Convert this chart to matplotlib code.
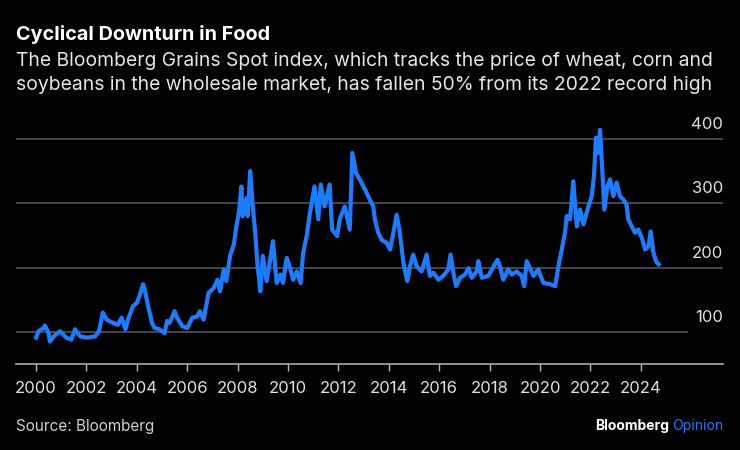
import matplotlib
matplotlib.use('Agg')
import matplotlib.pyplot as plt
import numpy as np

plt.rcParams['font.family'] = ['Inter', 'Liberation Sans', 'DejaVu Sans']

# Bloomberg Grains Spot index
years = [2000.0, 2000.1, 2000.3, 2000.35, 2000.5, 2000.55, 2000.7, 2000.95, 2001.2, 2001.4,
         2001.55, 2001.75, 2002.0, 2002.35, 2002.5, 2002.65, 2002.8, 2003.05, 2003.25, 2003.4,
         2003.55, 2003.65, 2003.85, 2004.0, 2004.1, 2004.25, 2004.3, 2004.45, 2004.6, 2004.7,
         2004.9, 2005.1, 2005.2, 2005.3, 2005.5, 2005.6, 2005.8, 2006.0, 2006.2, 2006.4,
         2006.5, 2006.65, 2006.85, 2007.05, 2007.2, 2007.3, 2007.45, 2007.55, 2007.7, 2007.85,
         2007.95, 2008.05, 2008.15, 2008.2, 2008.35, 2008.4, 2008.5, 2008.6, 2008.7, 2008.8,
         2008.85, 2008.9, 2009.0, 2009.15, 2009.25, 2009.4, 2009.55, 2009.7, 2009.8, 2009.95,
         2010.1, 2010.2, 2010.35, 2010.5, 2010.6, 2010.75, 2010.85, 2011.05, 2011.2, 2011.3,
         2011.45, 2011.65, 2011.75, 2011.95, 2012.05, 2012.25, 2012.45, 2012.55, 2012.7, 2012.86,
         2013.06, 2013.25, 2013.38, 2013.45, 2013.58, 2013.72, 2013.92, 2014.05, 2014.18, 2014.31,
         2014.42, 2014.58, 2014.73, 2014.84, 2014.97, 2015.1, 2015.3, 2015.5, 2015.63, 2015.77,
         2015.97, 2016.16, 2016.36, 2016.45, 2016.56, 2016.67, 2016.83, 2017.02, 2017.16, 2017.29,
         2017.49, 2017.55, 2017.69, 2017.95, 2018.12, 2018.31, 2018.41, 2018.54, 2018.74, 2018.88,
         2019.07, 2019.27, 2019.37, 2019.47, 2019.6, 2019.74, 2019.93, 2020.13, 2020.4, 2020.6,
         2020.73, 2020.86, 2020.99, 2021.06, 2021.19, 2021.32, 2021.46, 2021.59, 2021.72, 2021.92,
         2022.05, 2022.14, 2022.22, 2022.31, 2022.38, 2022.47, 2022.55, 2022.67, 2022.78, 2022.91,
         2023.04, 2023.17, 2023.3, 2023.43, 2023.5, 2023.64, 2023.77, 2023.9, 2024.04, 2024.17,
         2024.3, 2024.39, 2024.5, 2024.6, 2024.7]
index = [91, 101, 106, 110, 98, 85, 93, 101, 91, 88,
         104, 93, 91, 93, 101, 130, 119, 114, 111, 122,
         104, 119, 140, 145, 155, 174, 168, 140, 114, 106,
         104, 98, 117, 114, 132, 122, 109, 106, 122, 124,
         132, 119, 161, 168, 181, 163, 197, 179, 218, 236,
         264, 285, 326, 280, 308, 280, 350, 295, 254, 197,
         184, 163, 218, 179, 202, 241, 176, 189, 176, 215,
         197, 181, 194, 176, 223, 251, 280, 326, 275, 329,
         295, 329, 259, 249, 275, 295, 259, 378, 347, 336,
         321, 305, 295, 274, 254, 243, 238, 228, 254, 282,
         259, 207, 179, 202, 220, 202, 194, 220, 187, 192,
         181, 187, 197, 220, 192, 171, 184, 189, 199, 184,
         194, 210, 184, 187, 199, 212, 202, 181, 197, 189,
         194, 187, 171, 210, 199, 187, 197, 176, 174, 171,
         202, 228, 254, 280, 275, 334, 264, 290, 267, 295,
         311, 342, 402, 378, 414, 352, 290, 326, 337, 311,
         332, 311, 306, 298, 275, 264, 254, 259, 246, 228,
         233, 256, 223, 210, 205]

xticks = list(range(2000, 2025, 2))
yticks = [100, 200, 300, 400]

bg = 'black'
blue = '#1a7dff'

fig = plt.figure(figsize=(7.4, 4.5), dpi=100, facecolor=bg)
ax = fig.add_axes([16/740, 1 - 364/450, 707/740, (364 - 126)/450])
ax.set_facecolor(bg)

ax.set_xlim(1999.206, 2027.26)
ax.set_ylim(50, 420)

# gridlines, the lowest one stops short of the labels
for v in yticks:
    xmax = 0.949 if v == 100 else 1.0
    ax.axhline(v, xmin=0, xmax=xmax, color='#5a5a5a', lw=1.1, zorder=1)
    ax.annotate(str(v), xy=(1.0, v), xycoords=('axes fraction', 'data'),
                xytext=(0, 5), textcoords='offset points', ha='right', va='bottom',
                color='#e0e0e0', fontsize=12)

ax.plot(years, index, color=blue, lw=3.0, solid_joinstyle='round', zorder=3)

for s in ['top', 'right', 'left']:
    ax.spines[s].set_visible(False)
ax.spines['bottom'].set_color('#bbbbbb')
ax.spines['bottom'].set_linewidth(1.1)
ax.set_yticks([])
ax.set_xticks(xticks)
ax.set_xticklabels([str(y) for y in xticks])
ax.tick_params(axis='x', colors='#bbbbbb', length=5, width=1, labelcolor='#e0e0e0',
               labelsize=12, pad=7)

fig.text(16/740, 1 - 35/450, 'Cyclical Downturn in Food', color='white', fontsize=14.3,
         fontweight='bold', va='center', ha='left')
fig.text(16/740, 1 - 61/450, 'The Bloomberg Grains Spot index, which tracks the price of wheat, corn and',
         color='#e6e6e6', fontsize=13.9, va='center', ha='left')
fig.text(16/740, 1 - 85/450, 'soybeans in the wholesale market, has fallen 50% from its 2022 record high',
         color='#e6e6e6', fontsize=13.9, va='center', ha='left')

fig.text(16/740, 1 - 426/450, 'Source: Bloomberg', color='#d0d0d0', fontsize=11,
         va='center', ha='left')

op = fig.text(723/740, 1 - 426/450, 'Opinion', color=blue, fontsize=10, va='center', ha='right')
r = fig.canvas.get_renderer()
bb = op.get_window_extent(renderer=r)
fig.text((bb.x0 - 3) / 740, 1 - 426/450, 'Bloomberg', color='white', fontsize=10,
         fontweight='bold', va='center', ha='right')

fig.savefig('out.png', dpi=100, facecolor=bg)
